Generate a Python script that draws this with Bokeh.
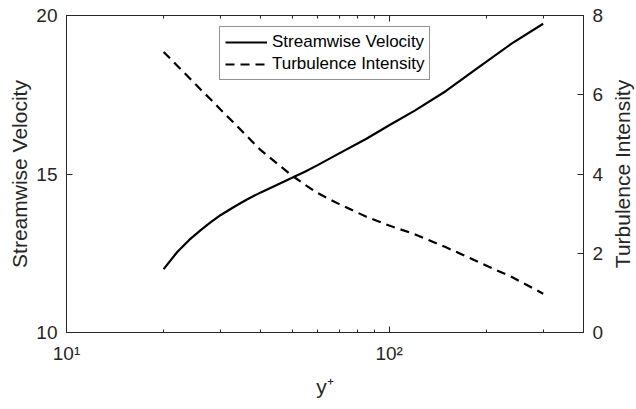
from bokeh.plotting import figure
from bokeh.layouts import row
from bokeh.models import Range1d, LinearAxis, LogAxis, FixedTicker, CustomJSTickFormatter
from bokeh.embed import file_html
from bokeh.resources import INLINE

# data
y_plus = [20, 22, 24, 26, 28, 30, 33, 36, 40, 45, 50, 55, 60, 70, 85, 100, 120, 150, 190, 240, 300]
velocity = [12.0, 12.53, 12.92, 13.22, 13.48, 13.7, 13.96, 14.18, 14.42, 14.66, 14.88, 15.08,
            15.28, 15.65, 16.11, 16.54, 17.0, 17.62, 18.38, 19.12, 19.74]
turbulence = [7.08, 6.74, 6.43, 6.14, 5.88, 5.63, 5.29, 4.98, 4.6, 4.26, 3.96, 3.72,
              3.52, 3.24, 2.92, 2.7, 2.48, 2.15, 1.77, 1.4, 0.98]

x_major = [10, 100]
x_minor = [20, 30, 40, 50, 60, 70, 80, 90, 200, 300, 400]
left_ticks = [10, 15, 20]
right_ticks = [0, 2, 4, 6, 8]

FONT = "Liberation Sans"
AX = "#262626"

p = figure(width=606, height=409, x_axis_type="log", output_backend="svg",
           toolbar_location=None, x_range=Range1d(10, 400), y_range=Range1d(10, 20),
           min_border_left=66, min_border_right=21, min_border_top=15, min_border_bottom=77)
p.extra_y_ranges = {"ti": Range1d(0, 8)}
p.xgrid.visible = False
p.ygrid.visible = False
p.outline_line_color = AX
p.background_fill_color = "white"
p.border_fill_color = "white"

xt = FixedTicker(ticks=x_major, minor_ticks=x_minor)
fmt = CustomJSTickFormatter(code="return tick == 10 ? '10\u00b9' : (tick == 100 ? '10\u00b2' : '');")


def style(ax, label_size="19px"):
    ax.axis_line_color = AX
    ax.major_tick_line_color = AX
    ax.minor_tick_line_color = AX
    ax.major_tick_in = 6
    ax.major_tick_out = 0
    ax.minor_tick_in = 3
    ax.minor_tick_out = 0
    ax.major_label_text_font = FONT
    ax.major_label_text_font_size = label_size
    ax.major_label_text_color = AX
    ax.axis_label_text_font = FONT
    ax.axis_label_text_font_size = "21px"
    ax.axis_label_text_font_style = "normal"
    ax.axis_label_text_color = AX
    ax.major_label_standoff = 9
    ax.axis_label_standoff = 2


# bottom axis
xa = p.xaxis[0]
xa.ticker = xt
xa.formatter = fmt
xa.axis_label = "y\u207a"
style(xa)
xa.major_label_standoff = 10
xa.axis_label_standoff = 8

# left axis
ya = p.yaxis[0]
ya.ticker = FixedTicker(ticks=left_ticks)
ya.axis_label = "Streamwise Velocity"
style(ya)
ya.minor_tick_line_color = None

# right axis (ticks and numbers)
ra = LinearAxis(y_range_name="ti", ticker=FixedTicker(ticks=right_ticks))
style(ra)
ra.minor_tick_line_color = None
p.add_layout(ra, "right")

# top axis (ticks only)
ta = LogAxis(ticker=FixedTicker(ticks=x_major, minor_ticks=x_minor))
style(ta)
ta.major_label_text_font_size = "0px"
ta.major_label_standoff = 0
ta.formatter = CustomJSTickFormatter(code="return '';")
p.add_layout(ta, "above")

p.line(y_plus, velocity, line_color="black", line_width=2.2, legend_label="Streamwise Velocity")
p.line(y_plus, turbulence, y_range_name="ti", line_color="black", line_width=2.2,
       line_dash="9 6", legend_label="Turbulence Intensity")

lg = p.legend[0]
lg.location = (153, 252)
lg.label_text_font = FONT
lg.label_text_font_size = "17px"
lg.label_text_color = "black"
lg.glyph_width = 42
lg.glyph_height = 20
lg.label_height = 20
lg.label_standoff = 5
lg.spacing = 2
lg.padding = 5
lg.margin = 0
lg.border_line_color = AX
lg.border_line_width = 1
lg.background_fill_alpha = 1.0

# narrow strip carrying the right-hand axis title (reads bottom-to-top)
p2 = figure(width=30, height=409, output_backend="svg", toolbar_location=None,
            x_axis_location=None, x_range=Range1d(0, 1), y_range=Range1d(0, 8),
            min_border_left=27, min_border_right=0, min_border_top=15, min_border_bottom=77)
p2.outline_line_color = None
p2.xgrid.visible = False
p2.ygrid.visible = False
p2.border_fill_color = "white"
p2.background_fill_color = "white"
a2 = p2.yaxis[0]
style(a2)
a2.axis_label = "Turbulence Intensity"
a2.axis_line_color = None
a2.major_tick_line_color = None
a2.minor_tick_line_color = None
a2.major_tick_in = 0
a2.minor_tick_in = 0
a2.major_label_text_font_size = "0px"
a2.major_label_standoff = 0
a2.axis_label_standoff = 0
a2.formatter = CustomJSTickFormatter(code="return '';")

layout = row(p, p2, spacing=0)
open("out.html", "w").write(file_html(layout, INLINE))
